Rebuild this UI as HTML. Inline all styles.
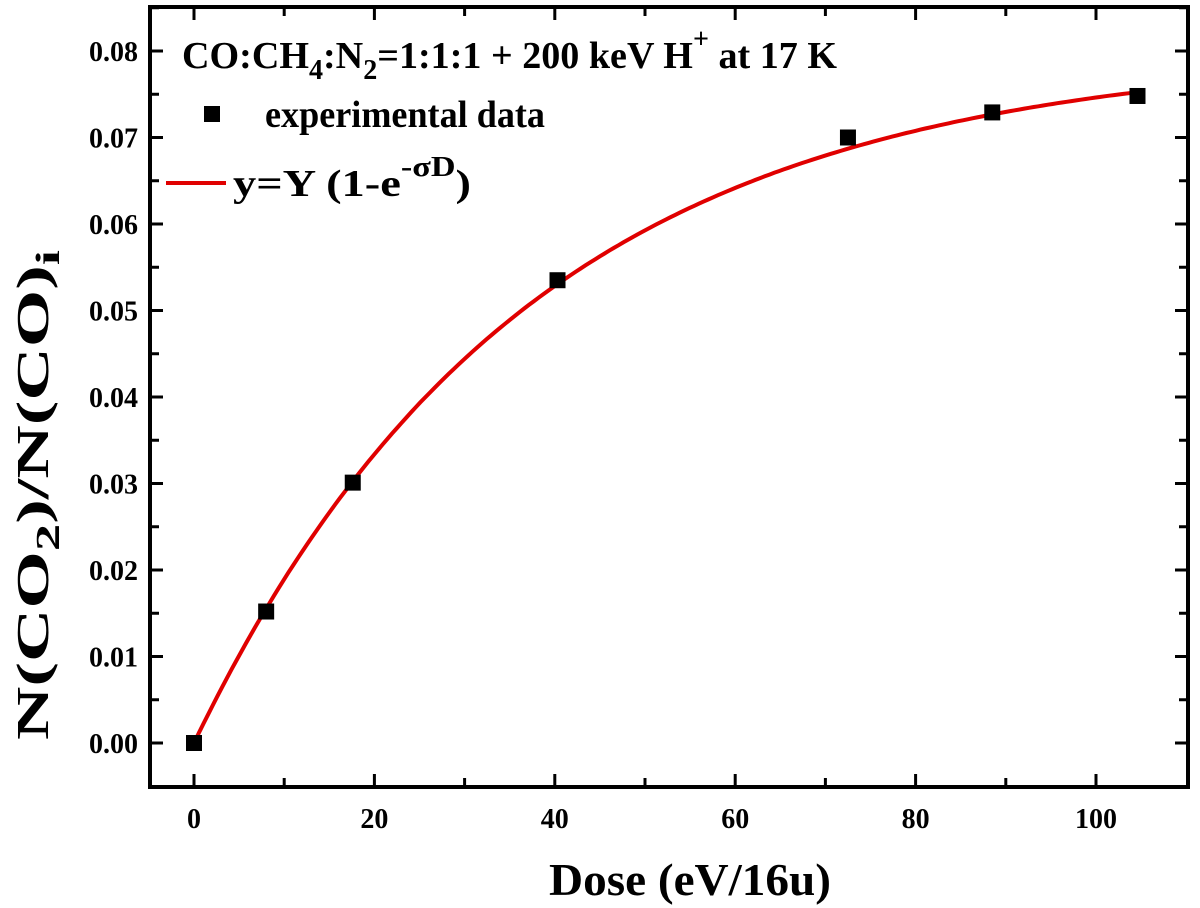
<!DOCTYPE html>
<html><head><meta charset="utf-8"><style>
html,body{margin:0;padding:0;background:#fff;}
svg{display:block;font-family:"Liberation Serif",serif;font-weight:bold;}
</style></head><body>
<svg id="chart" width="1200" height="908" xmlns="http://www.w3.org/2000/svg">
<g id="ticks"></g>
<g id="fit"></g>
<g id="pts"></g>
<rect x="150" y="7" width="1038" height="780" fill="none" stroke="#000" stroke-width="4"/>
<text x="182" y="68" font-size="38" textLength="655" lengthAdjust="spacingAndGlyphs">CO:CH<tspan font-size="28" dy="11">4</tspan><tspan dy="-11">:N</tspan><tspan font-size="28" dy="11">2</tspan><tspan dy="-11">=1:1:1 + 200 keV H</tspan><tspan font-size="28" dy="-20">+</tspan><tspan dy="20"> at 17 K</tspan></text>
<rect x="204" y="106" width="16" height="16" fill="#000"/>
<text x="265" y="127" font-size="38" textLength="280" lengthAdjust="spacingAndGlyphs">experimental data</text>
<line x1="166" y1="183" x2="226" y2="183" stroke="#e00000" stroke-width="4"/>
<text x="233" y="196" font-size="38" textLength="238" lengthAdjust="spacingAndGlyphs">y=Y (1-e<tspan font-size="28" dy="-20">-σD</tspan><tspan dy="20">)</tspan></text>
<text x="690" y="895" font-size="46" text-anchor="middle" textLength="282" lengthAdjust="spacingAndGlyphs">Dose (eV/16u)</text>
<text transform="translate(48,495) rotate(-90)" font-size="46" text-anchor="middle" textLength="490" lengthAdjust="spacingAndGlyphs">N(CO<tspan font-size="34" dy="11">2</tspan><tspan dy="-11">)/N(CO)</tspan><tspan font-size="34" dy="11">i</tspan></text>
</svg>
<script>
const doses=[0,8.0,17.6,40.3,72.5,88.5,104.6];
const ratios=[0,0.0152,0.0301,0.0535,0.0700,0.0729,0.0748];
const fitParams=[0.0800,0.0270];
const fitRange=[0,104.6];
const xTicks=[0,20,40,60,80,100];
const yTicks=[0,0.01,0.02,0.03,0.04,0.05,0.06,0.07,0.08];
const NS="http://www.w3.org/2000/svg";
const X=v=>194+v*9.02, Y=v=>743-v*8650;
function mk(t,a,p){const e=document.createElementNS(NS,t);for(const k in a)e.setAttribute(k,a[k]);p.appendChild(e);return e;}
const tg=document.getElementById('ticks');
function tick(x1,y1,x2,y2){const l=mk('line',{x1,y1,x2,y2,stroke:'#000','stroke-width':3},tg);}
for(let v=0;v<=110;v+=10){const x=X(v);if(x>1186)break;const L=v%20==0?13:9;tick(x,787,x,787-L);tick(x,7,x,7+L);}
xTicks.forEach(v=>{const t=mk('text',{x:X(v),y:828,'font-size':28,'text-anchor':'middle'},tg);t.textContent=v;});
for(let v=0;v<=0.0855;v+=0.005){const y=Y(v);const L=Math.round(v*1000)%10==0?13:9;tick(150,y,150+L,y);tick(1188,y,1188-L,y);}
yTicks.forEach(v=>{const t=mk('text',{x:138,y:Y(v)+10,'font-size':28,'text-anchor':'end'},tg);t.textContent=v.toFixed(2);});
let d='';for(let i=0;i<=200;i++){const D=fitRange[0]+(fitRange[1]-fitRange[0])*i/200;const y=fitParams[0]*(1-Math.exp(-fitParams[1]*D));d+=(i?'L':'M')+X(D).toFixed(1)+','+Y(y).toFixed(1);}
const p=mk('path',{d,fill:'none',stroke:'#e00000','stroke-width':4},document.getElementById('fit'));

const pg=document.getElementById('pts');
doses.forEach((D,i)=>{const r=mk('rect',{x:X(D)-8,y:Y(ratios[i])-8,width:16,height:16,fill:'#000'},pg);});
</script>
</body></html>
